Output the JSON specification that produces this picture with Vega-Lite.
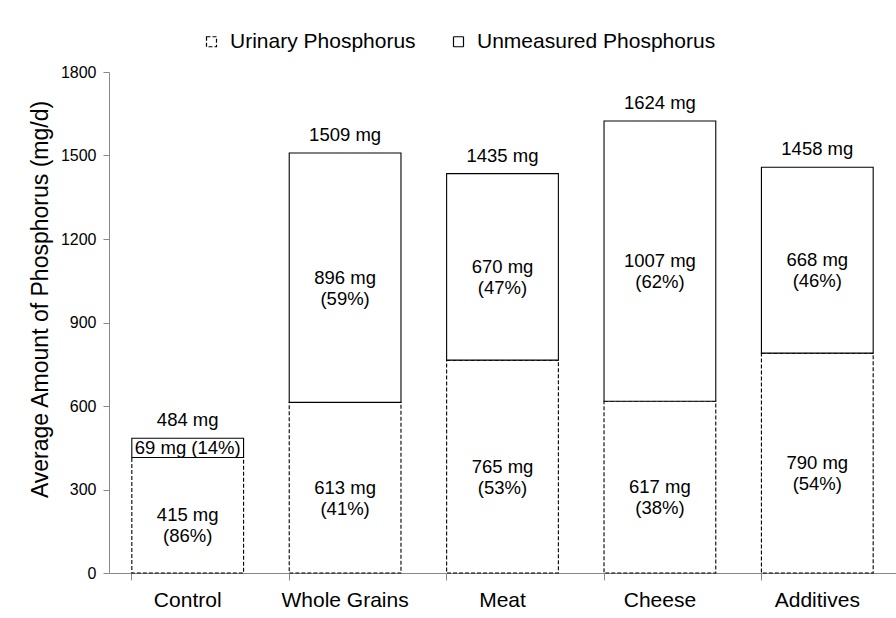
{
  "$schema": "https://vega.github.io/schema/vega-lite/v6.json",
  "width": 787,
  "height": 501,
  "autosize": {"type": "none"},
  "padding": {"left": 109, "top": 72, "right": 0, "bottom": 45},
  "background": "white",
  "config": {
    "view": {"stroke": null},
    "font": "Liberation Sans",
    "axis": {"labelFont": "Liberation Sans", "titleFont": "Liberation Sans", "domainColor": "#888888", "tickColor": "#888888", "labelColor": "#000000", "titleColor": "#000000", "grid": false},
    "legend": {"labelFont": "Liberation Sans"}
  },
  "datasets": {
    "segs": [
      {"cat": "Control", "series": "Urinary Phosphorus", "ord": 1, "value": 415, "label": "415 mg\n(86%)"},
      {"cat": "Control", "series": "Unmeasured Phosphorus", "ord": 2, "value": 69, "label": "69 mg (14%)"},
      {"cat": "Whole Grains", "series": "Urinary Phosphorus", "ord": 1, "value": 613, "label": "613 mg\n(41%)"},
      {"cat": "Whole Grains", "series": "Unmeasured Phosphorus", "ord": 2, "value": 896, "label": "896 mg\n(59%)"},
      {"cat": "Meat", "series": "Urinary Phosphorus", "ord": 1, "value": 765, "label": "765 mg\n(53%)"},
      {"cat": "Meat", "series": "Unmeasured Phosphorus", "ord": 2, "value": 670, "label": "670 mg\n(47%)"},
      {"cat": "Cheese", "series": "Urinary Phosphorus", "ord": 1, "value": 617, "label": "617 mg\n(38%)"},
      {"cat": "Cheese", "series": "Unmeasured Phosphorus", "ord": 2, "value": 1007, "label": "1007 mg\n(62%)"},
      {"cat": "Additives", "series": "Urinary Phosphorus", "ord": 1, "value": 790, "label": "790 mg\n(54%)"},
      {"cat": "Additives", "series": "Unmeasured Phosphorus", "ord": 2, "value": 668, "label": "668 mg\n(46%)"}
    ],
    "totals": [
      {"cat": "Control", "total": 484, "label": "484 mg"},
      {"cat": "Whole Grains", "total": 1509, "label": "1509 mg"},
      {"cat": "Meat", "total": 1435, "label": "1435 mg"},
      {"cat": "Cheese", "total": 1624, "label": "1624 mg"},
      {"cat": "Additives", "total": 1458, "label": "1458 mg"}
    ]
  },
  "encoding": {
    "x": {
      "field": "cat", "type": "nominal",
      "sort": ["Control", "Whole Grains", "Meat", "Cheese", "Additives"],
      "scale": {"paddingInner": 0.29, "paddingOuter": 0.145},
      "axis": {"title": null, "labelAngle": 0, "labelFontSize": 21, "labelPadding": 9, "tickSize": 7, "bandPosition": 0, "domainColor": "#888888"}
    }
  },
  "layer": [
    {
      "data": {"name": "segs"},
      "mark": {"type": "bar", "fill": "white", "strokeWidth": 1.1},
      "encoding": {
        "y": {
          "field": "value", "type": "quantitative", "stack": "zero",
          "scale": {"domain": [0, 1800]},
          "axis": {"values": [0, 300, 600, 900, 1200, 1500, 1800], "format": "d", "title": "Average Amount of Phosphorus (mg/d)", "titleFontSize": 23, "titleFontWeight": "normal", "titlePadding": 8, "titleY": 227, "labelFontSize": 16, "labelPadding": 7, "tickSize": 6}
        },
        "order": {"field": "ord"},
        "stroke": {
          "field": "series", "type": "nominal",
          "scale": {"domain": ["Urinary Phosphorus", "Unmeasured Phosphorus"], "range": ["#000000", "#000000"]},
          "legend": {
            "title": null, "orient": "none", "direction": "horizontal", "legendX": 92, "legendY": -41,
            "labelFontSize": 21, "labelLimit": 400, "labelOffset": 8, "columnPadding": 32,
            "symbolType": "square", "symbolSize": 100, "symbolFillColor": "white", "symbolStrokeWidth": 1.2,
            "encode": {"symbols": {"update": {"fill": {"value": "white"}, "strokeWidth": {"value": 1.2}, "opacity": {"value": 1}, "strokeOpacity": {"value": 1}}}}
          }
        },
        "strokeDash": {
          "field": "series", "type": "nominal",
          "scale": {"domain": ["Urinary Phosphorus", "Unmeasured Phosphorus"], "range": [[4, 2], [1, 0]]},
          "legend": {
            "title": null, "orient": "none", "direction": "horizontal", "legendX": 92, "legendY": -41,
            "labelFontSize": 21, "labelLimit": 400, "labelOffset": 8, "columnPadding": 32,
            "symbolType": "square", "symbolSize": 100, "symbolFillColor": "white", "symbolStrokeWidth": 1.2,
            "encode": {"symbols": {"update": {"fill": {"value": "white"}, "strokeWidth": {"value": 1.2}, "opacity": {"value": 1}, "strokeOpacity": {"value": 1}}}}
          }
        }
      }
    },
    {
      "data": {"name": "segs"},
      "mark": {"type": "text", "fontSize": 18.5, "lineHeight": 21, "lineBreak": "\n", "baseline": "middle", "align": "center"},
      "encoding": {
        "y": {"field": "value", "type": "quantitative", "stack": "zero", "bandPosition": 0.5},
        "order": {"field": "ord"},
        "text": {"field": "label"}
      }
    },
    {
      "data": {"name": "totals"},
      "mark": {"type": "text", "fontSize": 18.5, "baseline": "bottom", "align": "center", "dy": -8},
      "encoding": {
        "y": {"field": "total", "type": "quantitative"},
        "text": {"field": "label"}
      }
    }
  ]
}
